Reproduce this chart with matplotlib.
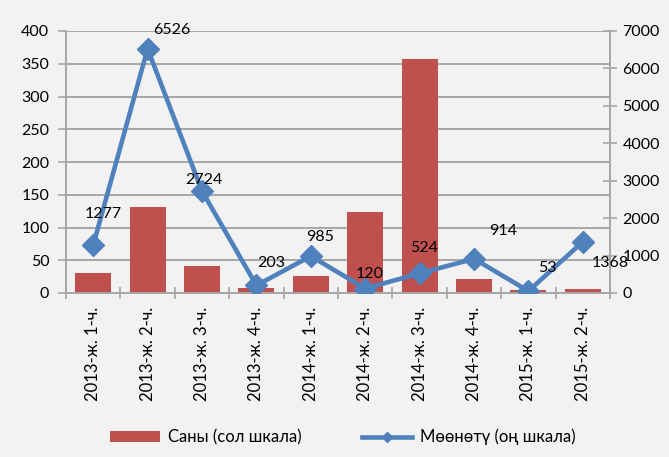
import matplotlib
matplotlib.use("Agg")
import matplotlib.pyplot as plt
from matplotlib.lines import Line2D
from matplotlib.patches import Patch

categories = ["2013-ж. 1-ч.", "2013-ж. 2-ч.", "2013-ж. 3-ч.", "2013-ж. 4-ч.",
              "2014-ж. 1-ч.", "2014-ж. 2-ч.", "2014-ж. 3-ч.", "2014-ж. 4-ч.",
              "2015-ж. 1-ч.", "2015-ж. 2-ч."]
count_values = [30, 131, 41, 8, 26, 123, 357, 22, 4, 6]
term_values = [1277, 6526, 2724, 203, 985, 120, 524, 914, 53, 1368]
left_ticks = [0, 50, 100, 150, 200, 250, 300, 350, 400]
right_ticks = [0, 1000, 2000, 3000, 4000, 5000, 6000, 7000]
bar_label = "Саны (сол шкала)"
line_label = "Мөөнөтү (оң шкала)"

# label offsets in pixels (dx, dy up)
label_offsets = [(10, 31), (24, 19), (2, 11), (15, 22), (9, 19),
                 (4, 15), (5, 25), (29, 28), (19, 23), (27, -21)]

bg = "#f2f2f2"
bar_color = "#c0504d"
line_color = "#4f81bd"
grid_color = "#a6a6a6"
plt.rcParams['font.family'] = ['Lato', 'DejaVu Sans']

fig = plt.figure(figsize=(6.69, 4.57), dpi=100, facecolor=bg)
ax = fig.add_axes([66/669, 1-293/457, (610-66)/669, (293-31)/457])
ax.set_facecolor(bg)
x = list(range(len(categories)))
ax.bar(x, count_values, width=0.66, color=bar_color, zorder=2)
ax.set_xlim(-0.5, len(categories)-0.5)
ax.set_ylim(0, 400)
ax.set_yticks(left_ticks)
ax.yaxis.grid(True, color=grid_color, linewidth=1.4, zorder=0)
ax.set_axisbelow(True)
ax.set_xticks(x)
ax.set_xticklabels(categories, rotation=90, fontsize=12)
ax.set_xticks([i + 0.5 for i in range(-1, len(categories))], minor=True)
ax.tick_params(axis='x', which='major', length=0, pad=10)
ax.tick_params(axis='x', which='minor', length=9, direction='inout', color=grid_color, width=1.2)
ax.tick_params(axis='y', length=6, direction='out', color=grid_color, width=1.2, labelsize=11.5, pad=6)
for s in ['top', 'right']:
    ax.spines[s].set_visible(False)
for s in ['left', 'bottom']:
    ax.spines[s].set_color(grid_color)
    ax.spines[s].set_linewidth(1.4)

ax2 = ax.twinx()
ax2.plot(x, term_values, color=line_color, linewidth=3.3, marker='D', markersize=11,
         markerfacecolor=line_color, markeredgecolor=line_color, zorder=3)
ax2.set_ylim(0, 7000)
ax2.set_yticks(right_ticks)
ax2.tick_params(axis='y', length=10, direction='inout', color=grid_color, width=1.2, labelsize=11.5, pad=4)
for s in ['top', 'left', 'bottom']:
    ax2.spines[s].set_visible(False)
ax2.spines['right'].set_color(grid_color)
ax2.spines['right'].set_linewidth(1.4)

for xi, v, (dx, dy) in zip(x, term_values, label_offsets):
    ax2.annotate(str(v), (xi, v), xytext=(dx*0.72, dy*0.72), textcoords='offset points',
                 ha='center', va='center', fontsize=11.5, color='black', zorder=5)

handles = [Patch(facecolor=bar_color, edgecolor='none'),
           Line2D([0], [0], color=line_color, linewidth=3.3, marker='D', markersize=5)]
fig.legend(handles, [bar_label, line_label], loc='center', bbox_to_anchor=(0.512, 1-437/457),
           ncol=2, frameon=False, fontsize=12, handlelength=3.0, handleheight=0.6,
           columnspacing=3.6, handletextpad=0.5)

fig.savefig("out.png", dpi=100, facecolor=bg)
